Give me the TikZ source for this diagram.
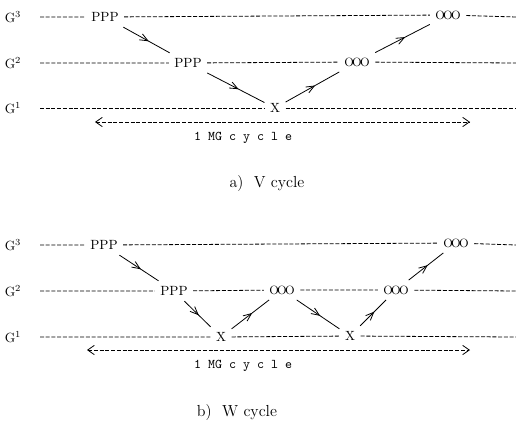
\documentclass[tikz,border=0pt]{standalone}
\usepackage{tikz}
\usetikzlibrary{arrows.meta,decorations.markings}

\newcommand{\ooo}{{\small O\kern-1.3ptO\kern-1.3ptO}}

\tikzset{
  lvl/.style={dash pattern=on 3pt off 1.3pt, line width=0.6pt},
  grid/.style={inner sep=4pt, font=\normalsize},
  midarr/.style={line width=0.6pt, postaction={decorate},
    decoration={markings, mark=at position 0.55 with {\arrow{Straight Barb[length=6pt,width=5pt]}}}},
  span/.style={dash pattern=on 3pt off 1.3pt, line width=0.6pt,
    {Straight Barb[length=5pt,width=7pt]}-{Straight Barb[length=5pt,width=7pt]}}
}

\begin{document}
\begin{tikzpicture}[x=0.75pt, y=-0.75pt]
  \useasboundingbox (0,0) rectangle (516,425);

  % ---------- a) V cycle ----------
  % grid level labels
  \node (va3) at (13,17) {G$^3$};
  \node (va2) at (13,63) {G$^2$};
  \node (va1) at (13,108) {G$^1$};
  % smoothing / correction points
  \node[grid] (vp3) at (105,17) {PPP};
  \node[grid] (vp2) at (188,63) {PPP};
  \node[grid] (vx)  at (275,108) {X};
  \node[grid] (vo2) at (357,62) {\ooo};
  \node[grid] (vo3) at (448,15) {\ooo};
  % level lines
  \coordinate (v3l) at (40,17);  \coordinate (v3r) at (516,17);
  \coordinate (v2l) at (40,63);  \coordinate (v2r) at (516,63);
  \coordinate (v1l) at (40,108); \coordinate (v1r) at (516,108);
  \draw[lvl] (v3l) -- (vp3) -- (vo3) -- (v3r);
  \draw[lvl] (v2l) -- (vp2) -- (vo2) -- (v2r);
  \draw[lvl] (v1l) -- (vx) -- (v1r);
  % down and up
  \draw[midarr] (vp3) -- (vp2);
  \draw[midarr] (vp2) -- (vx);
  \draw[midarr] (vx) -- (vo2);
  \draw[midarr] (vo2) -- (vo3);
  % one cycle
  \coordinate (vsl) at (95,122); \coordinate (vsr) at (470,122);
  \draw[span] (vsl) -- (vsr);
  \node[font=\ttfamily] (vmg) at (243,138) {1 MG c y c l e};
  \node[font=\large] (vcap) at (267,184) {a)\ \ V cycle};

  % ---------- b) W cycle ----------
  \node (wa3) at (13,245) {G$^3$};
  \node (wa2) at (13,291) {G$^2$};
  \node (wa1) at (13,337) {G$^1$};
  \node[grid] (wp3)  at (104,245) {PPP};
  \node[grid] (wp2)  at (174,291) {PPP};
  \node[grid] (wx1)  at (221,337) {X};
  \node[grid] (wo2a) at (282,290) {\ooo};
  \node[grid] (wx2)  at (350,336) {X};
  \node[grid] (wo2b) at (396,290) {\ooo};
  \node[grid] (wo3)  at (456,243) {\ooo};
  \coordinate (w3l) at (40,245); \coordinate (w3r) at (516,245);
  \coordinate (w2l) at (40,291); \coordinate (w2r) at (516,291);
  \coordinate (w1l) at (40,337); \coordinate (w1r) at (516,337);
  \draw[lvl] (w3l) -- (wp3) -- (wo3) -- (w3r);
  \draw[lvl] (w2l) -- (wp2) -- (wo2a) -- (wo2b) -- (w2r);
  \draw[lvl] (w1l) -- (wx1) -- (wx2) -- (w1r);
  \draw[midarr] (wp3) -- (wp2);
  \draw[midarr] (wp2) -- (wx1);
  \draw[midarr] (wx1) -- (wo2a);
  \draw[midarr] (wo2a) -- (wx2);
  \draw[midarr] (wx2) -- (wo2b);
  \draw[midarr] (wo2b) -- (wo3);
  \coordinate (wsl) at (87,350); \coordinate (wsr) at (470,350);
  \draw[span] (wsl) -- (wsr);
  \node[font=\ttfamily] (wmg) at (243,366) {1 MG c y c l e};
  \node[font=\large] (wcap) at (237,412) {b)\ \ W cycle};
\end{tikzpicture}
\end{document}
